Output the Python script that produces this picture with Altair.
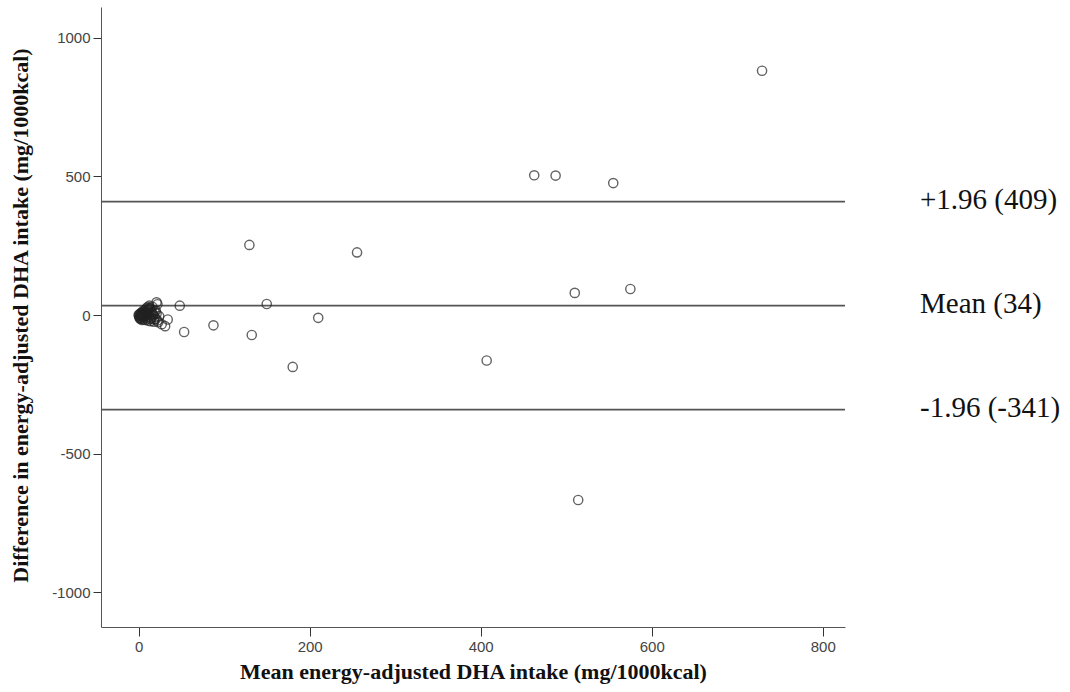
import altair as alt
import pandas as pd

# Scatter values: mean (x) and difference (y)
mean_vals = [729, 462.6, 487.6, 555, 510, 575, 407, 514,
             129.5, 255.4, 48.1, 149.8, 210, 53.2, 87.5, 132.3, 180.2,
             21, 22, 34, 27, 31,
             0, 0.5, 1, 1.5, 2, 2.5, 3, 3.5, 4, 4.5, 5, 5.5, 6, 6.5, 7, 7.5,
             8, 8.5, 9, 9.5, 10, 10.5, 11, 11.5, 12, 12.5, 13, 14, 14.5, 15,
             16, 17, 18, 18.5, 20, 21, 23, 24,
             1, 3, 5, 7, 9, 11, 13, 15, 17, 19, 2, 4, 6, 8, 10, 12, 14, 16,
             18, 20, 22]
diff_vals = [881, 504, 503, 476, 80, 94, -164, -667,
             253, 226, 34, 40, -10, -61, -37, -72, -187,
             46, 39, -16, -33, -40,
             0, -4, 3, -8, 6, -2, -12, 9, 1, -6, 14, -15, 4, -9, 18, -3,
             -18, 11, 24, -12, 2, 29, -20, 16, -6, 34, 8, -22, 22, -10,
             30, -2, -24, 14, -14, 6, -26, -4,
             -10, 2, -4, 8, 14, 20, 26, 12, 2, -8, -14, -18, 10, 0, 6, 24,
             -14, 4, -16, 16, -20]

# Limits of agreement
limit_vals = [409, 34, -341]
limit_labels = ["+1.96 (409)", "Mean (34)", "-1.96 (-341)"]

x_ticks = [0, 200, 400, 600, 800]
y_ticks = [-1000, -500, 0, 500, 1000]

pts = pd.DataFrame({"m": mean_vals, "d": diff_vals})
lims = pd.DataFrame({"v": limit_vals, "label": limit_labels})

W, H = 744, 620
xscale = alt.Scale(domain=[-44, 826], nice=False, zero=False)
yscale = alt.Scale(domain=[-1125, 1111], nice=False, zero=False)

title_font = "Liberation Serif, Times New Roman, serif"
tick_font = "Liberation Sans, Arial, sans-serif"

xaxis = alt.Axis(values=x_ticks, title="Mean energy-adjusted DHA intake (mg/1000kcal)",
                 labelExpr="datum.value + ''",
                 grid=False, tickSize=9, labelPadding=3, labelFont=tick_font,
                 labelFontSize=15, labelColor="#444", domainColor="#555",
                 tickColor="#333", titleFont=title_font, titleFontSize=22,
                 titleFontWeight="bold", titleColor="#111", titleBaseline="middle",
                 titleY=44)
yaxis = alt.Axis(values=y_ticks, title="Difference in energy-adjusted DHA intake (mg/1000kcal)",
                 labelExpr="datum.value + ''",
                 grid=False, tickSize=8, labelPadding=3, labelFont=tick_font,
                 labelFontSize=15, labelColor="#444", domainColor="#555",
                 tickColor="#333", titleFont=title_font, titleFontSize=22,
                 titleFontWeight="bold", titleColor="#111", titleAngle=270,
                 titleBaseline="middle", titleAlign="center", titleX=-81, titleY=308)

points = alt.Chart(pts).mark_point(shape="circle", filled=False, size=85,
                                   stroke="#222", strokeWidth=1.4).encode(
    x=alt.X("m:Q", scale=xscale, axis=xaxis),
    y=alt.Y("d:Q", scale=yscale, axis=yaxis),
)

rules = alt.Chart(lims).mark_rule(color="#555", strokeWidth=1.8).encode(
    y=alt.Y("v:Q", scale=yscale),
)

labels = alt.Chart(lims).mark_text(align="left", baseline="middle", dy=-2,
                                   font=title_font, fontSize=29, color="#111").encode(
    x=alt.value(819),
    y=alt.Y("v:Q", scale=yscale),
    text="label:N",
)

chart = alt.layer(rules, points, labels).properties(
    width=W, height=H,
    autosize=alt.AutoSizeParams(type="none"),
    padding={"left": 101, "top": 7, "right": 225, "bottom": 65},
    background="white",
).configure_view(stroke=None)

chart.save("out.html", embed_options={"renderer": "svg", "actions": False})
